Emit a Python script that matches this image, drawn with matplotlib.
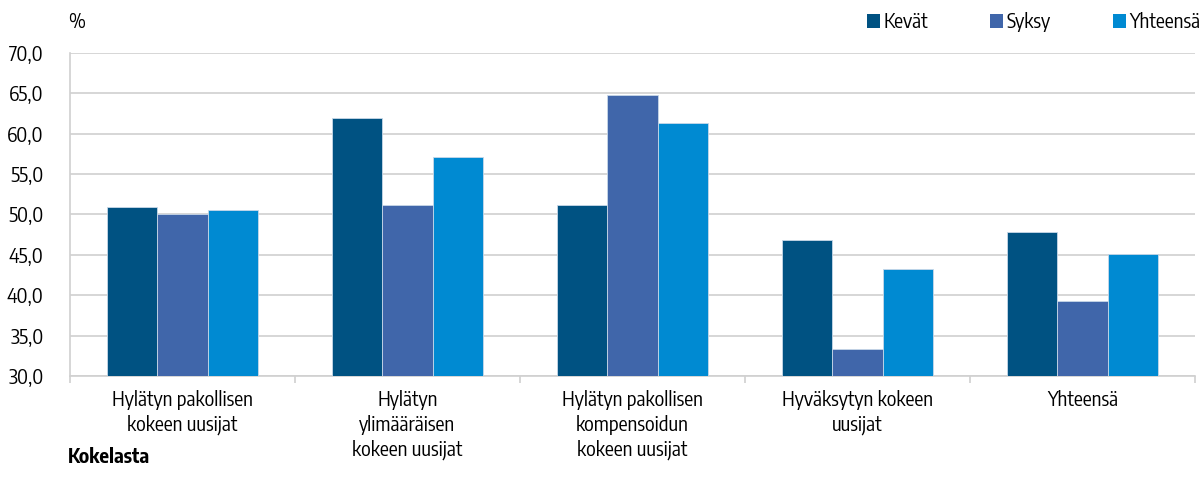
import numpy as np
import matplotlib.pyplot as plt
from matplotlib.patches import Patch

plt.rcParams["font.family"] = ["Encode Sans Condensed", "Open Sans", "DejaVu Sans"]

categories = [
    "Hylätyn pakollisen\nkokeen uusijat",
    "Hylätyn\nylimääräisen\nkokeen uusijat",
    "Hylätyn pakollisen\nkompensoidun\nkokeen uusijat",
    "Hyväksytyn kokeen\nuusijat",
    "Yhteensä",
]
series_names = ["Kevät", "Syksy", "Yhteensä"]
kevat = [50.9, 62.0, 51.2, 46.9, 47.8]
syksy = [50.0, 51.2, 64.8, 33.4, 39.3]
yhteensa = [50.6, 57.1, 61.3, 43.2, 45.1]
yticks = [30, 35, 40, 45, 50, 55, 60, 65, 70]

colors = ["#005282", "#4066aa", "#008ad2"]
grid_col = "#d0d0d0"
fs = 14.5

fig = plt.figure(figsize=(12.01, 4.91), dpi=100)
ax = fig.add_axes([70 / 1201, 115 / 491, 1125 / 1201, 323 / 491])

x = np.arange(len(categories))
w = 0.225
for i, (vals, c) in enumerate(zip([kevat, syksy, yhteensa], colors)):
    ax.bar(x + (i - 1) * w, np.array(vals) - 30, bottom=30, width=w,
           color=c, edgecolor="#c8d8e8", linewidth=0.6, zorder=3)

ax.set_xlim(-0.5, len(categories) - 0.5)
ax.set_ylim(30, 70)
ax.set_yticks(yticks)
ax.set_yticklabels([f"{v:.1f}".replace(".", ",") for v in yticks], fontsize=fs)
ax.yaxis.grid(True, color=grid_col, linewidth=1.2, zorder=0)
ax.tick_params(axis="y", length=0, pad=19)

ax.set_xticks(x)
ax.set_xticklabels(categories, fontsize=fs, linespacing=1.3)
ax.set_xticks(np.arange(len(categories) + 1) - 0.5, minor=True)
ax.tick_params(axis="x", which="major", length=0, pad=10)
ax.tick_params(axis="x", which="minor", length=5, color=grid_col, width=1.2)

for s in ["top", "right"]:
    ax.spines[s].set_visible(False)
for s in ["left", "bottom"]:
    ax.spines[s].set_color(grid_col)
    ax.spines[s].set_linewidth(1.2)

fig.text(68 / 1201, 1 - 22 / 491, "%", fontsize=fs, va="center", ha="left")
fig.text(68 / 1201, 1 - 457 / 491, "Kokelasta", fontsize=fs,
         fontweight="bold", va="center", ha="left")

handles = [Patch(facecolor=c, edgecolor="none") for c in colors]
fig.legend(handles, series_names, loc="center right",
           bbox_to_anchor=(1200 / 1201, 1 - 22 / 491), ncol=3, frameon=False,
           fontsize=fs, handlelength=0.65, handleheight=0.65,
           handletextpad=0.15, columnspacing=3.1, borderpad=0, borderaxespad=0)

plt.savefig("out.png", dpi=100)
